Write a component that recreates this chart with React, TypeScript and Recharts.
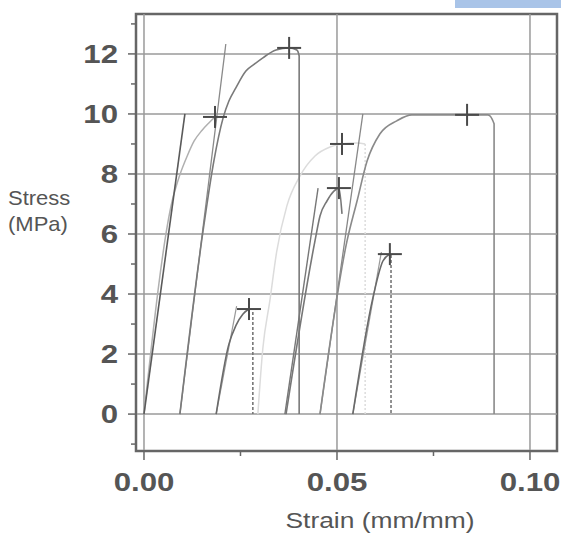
import { ComposedChart, Line, Scatter, XAxis, YAxis, ReferenceLine, ReferenceArea } from "recharts";

// strain (mm/mm) / stress (MPa)
const s1Tangent = [
  { x: 0, y: 0 },
  { x: 0.0106, y: 10.0 },
];
const s1Curve = [
  { x: 0, y: 0 },
  { x: 0.0073, y: 7.1 },
  { x: 0.0091, y: 7.9 },
  { x: 0.0112, y: 8.6 },
  { x: 0.013, y: 9.1 },
  { x: 0.015, y: 9.45 },
  { x: 0.0168, y: 9.7 },
  { x: 0.0184, y: 9.9 },
];
const s2Tangent = [
  { x: 0.0093, y: 0 },
  { x: 0.0212, y: 12.33 },
];
const s2Curve = [
  { x: 0.0093, y: 0 },
  { x: 0.0153, y: 6.1 },
  { x: 0.0181, y: 8.43 },
  { x: 0.0205, y: 9.87 },
  { x: 0.022, y: 10.43 },
  { x: 0.0238, y: 10.87 },
  { x: 0.0264, y: 11.43 },
  { x: 0.0285, y: 11.65 },
  { x: 0.0308, y: 11.87 },
  { x: 0.0342, y: 12.13 },
  { x: 0.0376, y: 12.2 },
  { x: 0.0396, y: 12.13 },
  { x: 0.0402, y: 11.93 },
  { x: 0.0402, y: 0 },
];
const s3Tangent = [
  { x: 0.0187, y: 0 },
  { x: 0.024, y: 3.6 },
];
const s3Curve = [
  { x: 0.0187, y: 0 },
  { x: 0.022, y: 2.33 },
  { x: 0.0238, y: 2.95 },
  { x: 0.0256, y: 3.33 },
  { x: 0.0272, y: 3.5 },
];
const s3Drop = [
  { x: 0.0282, y: 3.4 },
  { x: 0.0282, y: 0 },
];
const s4Curve = [
  { x: 0.0295, y: 0 },
  { x: 0.0308, y: 2.2 },
  { x: 0.0326, y: 3.77 },
  { x: 0.0344, y: 5.43 },
  { x: 0.037, y: 6.93 },
  { x: 0.0404, y: 7.93 },
  { x: 0.0443, y: 8.6 },
  { x: 0.0482, y: 8.9 },
  { x: 0.0513, y: 9.0 },
  { x: 0.0552, y: 9.03 },
  { x: 0.0573, y: 9.0 },
];
const s4Drop = [
  { x: 0.0573, y: 9.0 },
  { x: 0.0573, y: 0 },
];
const s5Tangent = [
  { x: 0.0365, y: 0 },
  { x: 0.0451, y: 7.53 },
];
const s5Curve = [
  { x: 0.0368, y: 0 },
  { x: 0.0443, y: 5.77 },
  { x: 0.0456, y: 6.6 },
  { x: 0.0474, y: 7.1 },
  { x: 0.0492, y: 7.43 },
  { x: 0.0505, y: 7.53 },
  { x: 0.0513, y: 6.67 },
];
const s6Tangent = [
  { x: 0.0456, y: 0 },
  { x: 0.0567, y: 10.0 },
];
const s6Curve = [
  { x: 0.0456, y: 0 },
  { x: 0.0526, y: 5.77 },
  { x: 0.0552, y: 7.1 },
  { x: 0.0578, y: 8.43 },
  { x: 0.0611, y: 9.33 },
  { x: 0.0655, y: 9.77 },
  { x: 0.0694, y: 9.97 },
  { x: 0.0837, y: 9.97 },
  { x: 0.0891, y: 9.97 },
  { x: 0.0907, y: 9.67 },
  { x: 0.0907, y: 0 },
];
const s7Tangent = [
  { x: 0.0541, y: 0 },
  { x: 0.0615, y: 5.4 },
];
const s7Curve = [
  { x: 0.0541, y: 0 },
  { x: 0.0593, y: 3.87 },
  { x: 0.0619, y: 5.1 },
  { x: 0.0637, y: 5.33 },
];
const s7Drop = [
  { x: 0.064, y: 5.3 },
  { x: 0.064, y: 0 },
];
const peaks = [
  { x: 0.0184, y: 9.9 },
  { x: 0.0376, y: 12.2 },
  { x: 0.0272, y: 3.5 },
  { x: 0.0513, y: 9.0 },
  { x: 0.0505, y: 7.53 },
  { x: 0.0837, y: 9.97 },
  { x: 0.0637, y: 5.33 },
];

const xTicks = [0, 0.025, 0.05, 0.075, 0.1];
const xGrid = [0, 0.05, 0.1];
const yTicks = [-1, 0, 1, 2, 3, 4, 5, 6, 7, 8, 9, 10, 11, 12, 13];
const yGrid = [0, 2, 4, 6, 8, 10, 12];
const X_DOMAIN: [number, number] = [-0.00207, 0.107];
const Y_DOMAIN: [number, number] = [-1.23, 13.33];

const INK = "#555";
const FONT = "Liberation Sans, Arial, sans-serif";

function YTick(props: any) {
  const { x, y, payload } = props;
  const v = payload.value;
  const major = v % 2 === 0 && v >= 0 && v <= 12;
  return (
    <g>
      <line x1={x - (major ? 8 : 5)} x2={x} y1={y} y2={y} stroke="#666" strokeWidth={1.5} />
      {major && (
        <text
          transform={`translate(${x - 18},${y + 9}) scale(1.2,1)`}
          textAnchor="end"
          fontFamily={FONT}
          fontWeight="bold"
          fontSize={26}
          fill={INK}
        >
          {v}
        </text>
      )}
    </g>
  );
}

function XTick(props: any) {
  const { x, y, payload } = props;
  const v = payload.value;
  const major = Math.abs((v * 100) % 5) < 1e-6;
  return (
    <g>
      <line x1={x} x2={x} y1={y} y2={y + (major ? 9 : 5)} stroke="#666" strokeWidth={1.5} />
      {major && (
        <text
          transform={`translate(${x},${y + 40}) scale(1.2,1)`}
          textAnchor="middle"
          fontFamily={FONT}
          fontWeight="bold"
          fontSize={26}
          fill={INK}
        >
          {v.toFixed(2)}
        </text>
      )}
    </g>
  );
}

const Cross = (props: any) => {
  const { cx, cy } = props;
  return (
    <g stroke="#4a4a4a" strokeWidth={2}>
      <line x1={cx - 12} x2={cx + 12} y1={cy} y2={cy} />
      <line x1={cx} x2={cx} y1={cy - 11} y2={cy + 11} />
    </g>
  );
};

const line = (data: any[], stroke: string, width = 1.5, dash?: string, curve = false) => (
  <Line
    data={data}
    dataKey="y"
    type={curve ? "monotone" : "linear"}
    stroke={stroke}
    strokeWidth={width}
    strokeDasharray={dash}
    dot={false}
    activeDot={false}
    isAnimationActive={false}
  />
);

export default function App() {
  return (
    <div style={{ position: "absolute", left: 0, top: 0, width: 561, height: 533, background: "#fff" }}>
      <div style={{ position: "absolute", left: 455, top: 0, width: 106, height: 8, background: "#a9c4e8" }} />
      <ComposedChart width={561} height={533} margin={{ top: 14, right: 4, bottom: 0, left: 0 }}>
        <XAxis
          type="number"
          dataKey="x"
          domain={X_DOMAIN}
          allowDataOverflow
          ticks={xTicks}
          interval={0}
          tickSize={0}
          tickMargin={0}
          tickLine={false}
          tick={<XTick />}
          height={82}
          axisLine={{ stroke: "#666", strokeWidth: 2 }}
        />
        <YAxis
          type="number"
          dataKey="y"
          domain={Y_DOMAIN}
          allowDataOverflow
          ticks={yTicks}
          interval={0}
          tickSize={0}
          tickMargin={0}
          tickLine={false}
          tick={<YTick />}
          width={136}
          axisLine={{ stroke: "#666", strokeWidth: 2 }}
        />
        {yGrid.map((v) => (
          <ReferenceLine key={"h" + v} y={v} stroke="#9a9a9a" strokeWidth={1.5} />
        ))}
        {xGrid.map((v) => (
          <ReferenceLine key={"v" + v} x={v} stroke="#9a9a9a" strokeWidth={1.5} />
        ))}
        <ReferenceArea
          x1={X_DOMAIN[0]}
          x2={X_DOMAIN[1]}
          y1={Y_DOMAIN[0]}
          y2={Y_DOMAIN[1]}
          fill="none"
          stroke="#666"
          strokeWidth={2.5}
        />
        {line(s4Curve, "#dcdcdc", 1.5, undefined, true)}
        {line(s4Drop, "#dcdcdc", 1.5, "2 2")}
        {line(s1Curve, "#b0b0b0", 1.5, undefined, true)}
        {line(s1Tangent, "#5a5a5a", 1.6)}
        {line(s2Tangent, "#8a8a8a", 1.3)}
        {line(s2Curve, "#7a7a7a", 1.6, undefined, true)}
        {line(s3Tangent, "#9a9a9a", 1.2)}
        {line(s3Curve, "#6a6a6a", 1.6, undefined, true)}
        {line(s3Drop, "#777", 1.6, "3 2")}
        {line(s5Tangent, "#777", 1.4)}
        {line(s5Curve, "#777", 1.6, undefined, true)}
        {line(s6Tangent, "#888", 1.3)}
        {line(s6Curve, "#8a8a8a", 1.6, undefined, true)}
        {line(s7Tangent, "#999", 1.2)}
        {line(s7Curve, "#6a6a6a", 1.6, undefined, true)}
        {line(s7Drop, "#777", 1.6, "3 2")}
        <Scatter data={peaks} dataKey="y" shape={Cross} isAnimationActive={false} />
        <text
          transform="translate(380,528) scale(1.2,1)"
          textAnchor="middle"
          fontFamily={FONT}
          fontSize={22}
          fill={INK}
        >
          Strain (mm/mm)
        </text>
        <text transform="translate(8,205) scale(1.1,1)" fontFamily={FONT} fontSize={20} fill={INK}>
          Stress
        </text>
        <text transform="translate(8,231) scale(1.1,1)" fontFamily={FONT} fontSize={20} fill={INK}>
          (MPa)
        </text>
      </ComposedChart>
    </div>
  );
}
